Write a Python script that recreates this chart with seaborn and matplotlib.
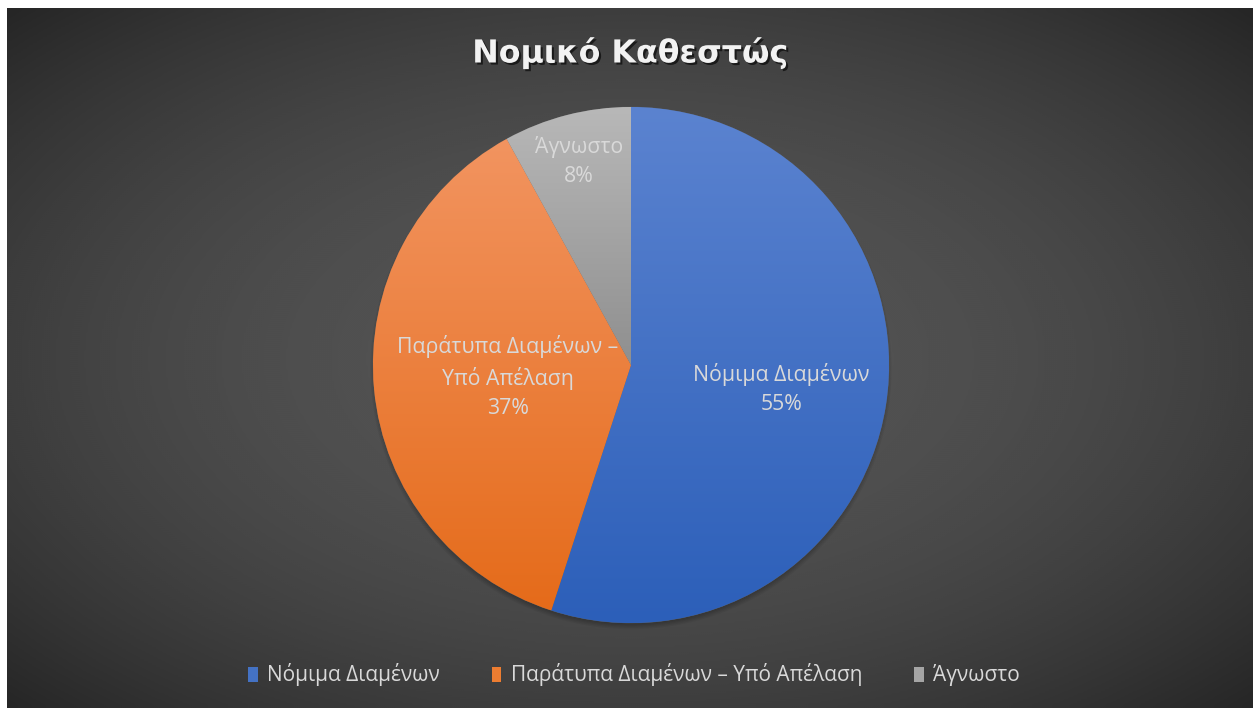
import numpy as np
import matplotlib
matplotlib.use("Agg")
import matplotlib.pyplot as plt
import matplotlib.patheffects as pe
from matplotlib.colors import LinearSegmentedColormap
from matplotlib.patches import Rectangle, Circle
import seaborn as sns

# Data
categories = ["Νόμιμα Διαμένων", "Παράτυπα Διαμένων – Υπό Απέλαση", "Άγνωστο"]
slice_labels = ["Νόμιμα Διαμένων", "Παράτυπα Διαμένων –\nΥπό Απέλαση", "Άγνωστο"]
shares = [55, 37, 8]
title = "Νομικό Καθεστώς"

# Styling
base_colors = sns.color_palette(["#4472c4", "#ed7d31", "#a5a5a5"])
grad_colors = [("#5b83d0", "#2c5fb9"), ("#f29460", "#e56b1a"), ("#b8b8b8", "#8f8f8f")]
label_radius = [0.59, 0.48, 0.815]

sns.set_theme(style="white")
plt.rcParams["font.family"] = ["Open Sans", "DejaVu Sans"]

W, H = 1253, 708
fig = plt.figure(figsize=(W / 100, H / 100), dpi=100, facecolor="white")

# background radial gradient
bg = fig.add_axes([7 / W, 0, (W - 7) / W, (H - 8) / H], zorder=0)
yy, xx = np.mgrid[0:350, 0:623]
dx = (xx - 311) / 311
dy = (yy - 175) / 175
r = np.sqrt(dx ** 2 + dy ** 2) / np.sqrt(2)
val = (85 - 47 * r ** 2) / 255
bg.imshow(val, cmap="gray", vmin=0, vmax=1, aspect="auto", interpolation="bicubic")
bg.set_axis_off()

# pie axes
cx, cy, rad = 631, 365, 258
ax = fig.add_axes([(cx - rad) / W, (H - cy - rad) / H, 2 * rad / W, 2 * rad / H], zorder=1)
ax.patch.set_alpha(0)

# soft shadow under the pie
for i in range(5):
    ax.add_patch(Circle((0.0, -0.014), 0.99 + 0.005 * i, color="black", alpha=0.05, lw=0,
                        zorder=0, clip_on=False))

wedges, _ = ax.pie(shares, colors=base_colors, startangle=90, counterclock=False,
                   wedgeprops=dict(edgecolor="#5a5a5a", linewidth=0.4, zorder=2))

# vertical gradient fill in each slice
for w, (top, bot) in zip(wedges, grad_colors):
    ext = w.get_path().get_extents()
    cmap = LinearSegmentedColormap.from_list("g", [bot, top])
    grad = np.linspace(0, 1, 256).reshape(-1, 1)
    im = ax.imshow(grad, cmap=cmap, extent=[ext.x0, ext.x1, ext.y0, ext.y1],
                   origin="lower", aspect="auto", zorder=2.5)
    im.set_clip_path(w)

# labels inside slices
for w, lab, val_, lr in zip(wedges, slice_labels, shares, label_radius):
    ang = np.deg2rad((w.theta1 + w.theta2) / 2)
    ax.text(lr * np.cos(ang), lr * np.sin(ang), f"{lab}\n{val_}%", ha="center", va="center",
            fontsize=15.3, color="#d9d9d9", zorder=5, linespacing=1.5)

ax.set_xlim(-1, 1)
ax.set_ylim(-1, 1)
ax.set_aspect("auto")
ax.set_axis_off()

# title
fig.text(630 / W, 1 - 53 / H, title, ha="center", va="center", fontsize=22.8, fontweight="bold",
         color="#f2f2f2", family=["DejaVu Sans"],
         path_effects=[pe.withSimplePatchShadow(offset=(1.5, -1.5), shadow_rgbFace="black", alpha=0.6)])

# legend
handles = [Rectangle((0, 0), 1, 1, facecolor=c, edgecolor="none") for c in base_colors]
fig.legend(handles, categories, loc="center", bbox_to_anchor=(634 / W, 1 - 675 / H), ncol=3,
           frameon=False, fontsize=15, labelcolor="#d9d9d9", handlelength=0.45, handleheight=0.75,
           handletextpad=0.45, columnspacing=2.5)

fig.savefig("out.png", dpi=100, facecolor="white")
